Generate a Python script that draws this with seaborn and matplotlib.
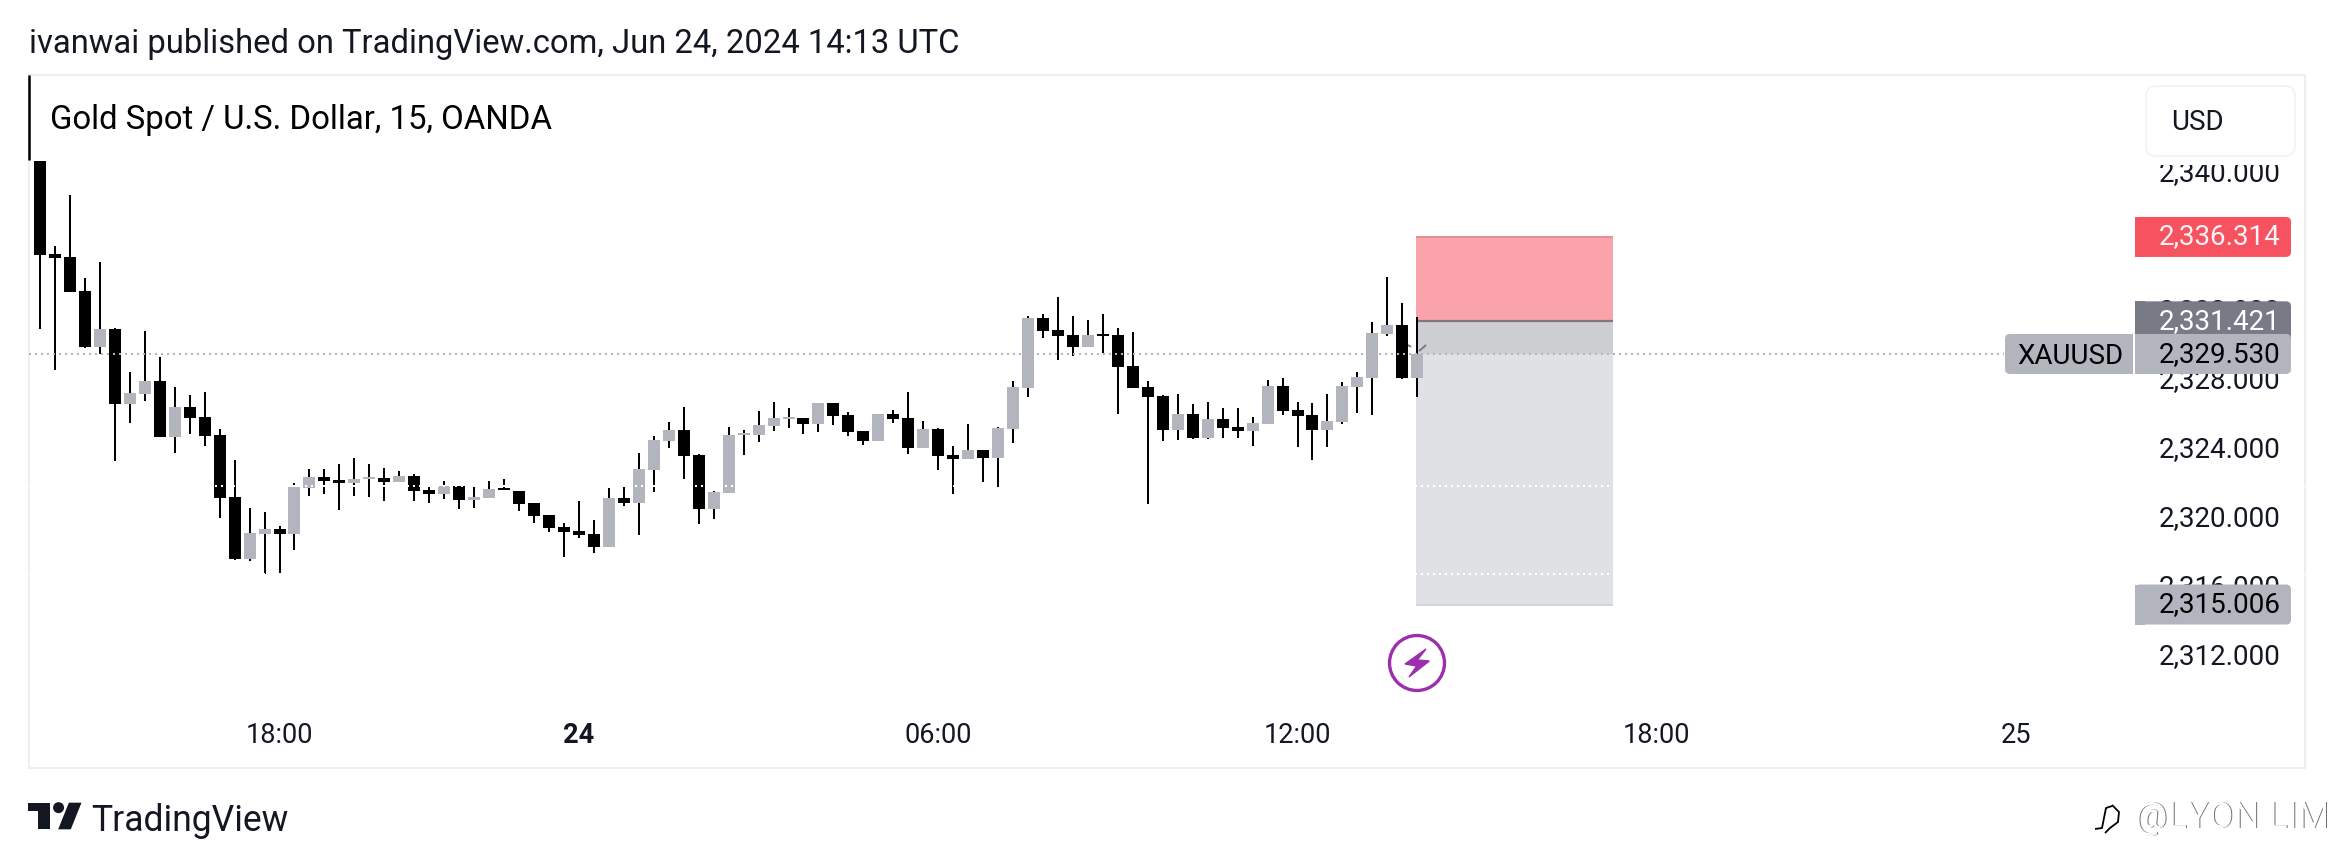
import numpy as np
import pandas as pd
import matplotlib
matplotlib.use('Agg')
import matplotlib.pyplot as plt
from matplotlib.patches import FancyBboxPatch, Rectangle, Circle, Polygon
import seaborn as sns

# XAUUSD 15 min candles
opens = [2340.72, 2335.33, 2335.15, 2333.18, 2329.94, 2330.98, 2326.63, 2327.21, 2327.96, 2324.72,
         2326.46, 2325.88, 2324.83, 2321.24, 2317.65, 2319.10, 2319.38, 2319.10, 2321.76, 2322.40,
         2322.23, 2322.05, 2322.28, 2322.34, 2322.11, 2322.46, 2321.65, 2321.41, 2321.88, 2321.07,
         2321.18, 2321.76, 2321.59, 2320.89, 2320.20, 2319.50, 2319.27, 2319.10, 2318.34, 2321.18,
         2320.89, 2322.81, 2324.49, 2325.12, 2323.67, 2320.54, 2321.47, 2324.83, 2324.83, 2325.36,
         2325.76, 2325.82, 2325.47, 2326.69, 2325.99, 2325.07, 2324.49, 2326.05, 2325.82, 2324.08,
         2325.18, 2323.67, 2323.44, 2323.96, 2323.50, 2325.18, 2327.56, 2331.62, 2330.92, 2330.63,
         2329.94, 2330.69, 2330.63, 2328.83, 2327.62, 2327.10, 2325.12, 2326.05, 2324.66, 2325.76,
         2325.30, 2325.07, 2325.47, 2327.67, 2326.28, 2325.99, 2325.12, 2325.59, 2327.62, 2328.14,
         2330.69, 2331.21, 2328.14]
highs = [2340.72, 2335.79, 2338.75, 2333.94, 2334.86, 2331.04, 2328.49, 2330.86, 2329.36, 2327.62,
         2327.15, 2327.33, 2325.18, 2323.38, 2320.60, 2320.37, 2319.56, 2322.05, 2322.86, 2322.86,
         2323.15, 2323.50, 2323.15, 2322.92, 2322.75, 2322.57, 2321.82, 2322.17, 2321.88, 2321.82,
         2322.17, 2322.28, 2321.59, 2320.89, 2320.20, 2319.73, 2321.01, 2319.91, 2321.76, 2321.82,
         2323.79, 2324.78, 2325.59, 2326.46, 2323.73, 2321.59, 2325.30, 2325.12, 2326.23, 2326.75,
         2326.40, 2325.82, 2326.69, 2326.69, 2326.17, 2325.07, 2326.05, 2326.28, 2327.33, 2325.65,
         2325.24, 2324.20, 2325.47, 2323.96, 2325.30, 2327.96, 2331.73, 2331.85, 2332.83, 2331.73,
         2331.50, 2331.85, 2331.04, 2330.81, 2327.96, 2327.15, 2327.21, 2326.63, 2326.75, 2326.40,
         2326.40, 2325.88, 2328.02, 2328.14, 2326.75, 2326.69, 2327.21, 2327.91, 2328.49, 2331.39,
         2333.99, 2332.49, 2331.67]
lows = [2330.98, 2328.60, 2333.12, 2329.88, 2329.53, 2323.33, 2325.53, 2326.81, 2324.72, 2323.79,
        2324.89, 2324.20, 2320.02, 2317.59, 2317.53, 2316.78, 2316.83, 2318.17, 2321.30, 2321.41,
        2320.49, 2321.30, 2321.24, 2321.01, 2322.11, 2321.01, 2320.89, 2321.12, 2320.54, 2320.60,
        2321.18, 2321.65, 2320.43, 2319.73, 2319.21, 2317.76, 2318.86, 2317.99, 2318.34, 2320.72,
        2319.04, 2321.53, 2324.08, 2322.28, 2319.67, 2319.96, 2321.47, 2323.67, 2324.43, 2325.07,
        2325.24, 2324.89, 2325.01, 2325.41, 2324.78, 2324.25, 2324.49, 2325.53, 2323.73, 2324.08,
        2322.81, 2321.41, 2323.44, 2322.11, 2321.82, 2324.37, 2327.04, 2330.46, 2329.18, 2329.41,
        2329.94, 2329.59, 2326.05, 2327.56, 2320.83, 2324.49, 2324.54, 2324.60, 2324.60, 2324.66,
        2324.66, 2324.20, 2325.47, 2325.99, 2324.14, 2323.38, 2324.14, 2325.47, 2326.11, 2325.99,
        2330.57, 2328.08, 2327.04]
closes = [2335.27, 2335.10, 2333.12, 2329.94, 2330.98, 2326.63, 2327.27, 2327.96, 2324.72, 2326.46,
          2325.82, 2324.78, 2321.18, 2317.65, 2319.15, 2319.38, 2319.10, 2321.82, 2322.40, 2322.17,
          2322.05, 2322.28, 2322.40, 2322.11, 2322.46, 2321.59, 2321.41, 2321.88, 2321.07, 2321.24,
          2321.70, 2321.65, 2320.83, 2320.14, 2319.44, 2319.21, 2319.04, 2318.34, 2321.18, 2320.89,
          2322.86, 2324.54, 2325.12, 2323.62, 2320.54, 2321.53, 2324.83, 2324.95, 2325.41, 2325.82,
          2325.88, 2325.47, 2326.69, 2325.94, 2325.01, 2324.49, 2326.05, 2325.76, 2324.08, 2325.18,
          2323.62, 2323.44, 2323.96, 2323.50, 2325.24, 2327.62, 2331.62, 2330.86, 2330.57, 2329.94,
          2330.63, 2330.57, 2328.78, 2327.56, 2327.04, 2325.12, 2326.05, 2324.66, 2325.76, 2325.24,
          2325.07, 2325.53, 2327.67, 2326.23, 2325.94, 2325.12, 2325.65, 2327.67, 2328.20, 2330.75,
          2331.21, 2328.14, 2329.53]

price_ticks = [2312, 2316, 2320, 2324, 2328, 2332, 2336, 2340]
time_ticks = [16, 36, 60, 84, 108, 132]
time_labels = ['18:00', '24', '06:00', '12:00', '18:00', '25']

last_price = 2329.530
stop_price = 2336.314
entry_price = 2331.421
target_price = 2315.006
box_bars = (91.9, 105.05)
grid_prices = [2321.88, 2316.78]

BLACK = '#000000'
GREY = '#b2b5be'
INK = '#131722'

sns.set_theme(style='white')
plt.rcParams['font.family'] = ['Roboto', 'DejaVu Sans']
plt.rcParams['lines.solid_capstyle'] = 'butt'

W, H = 2333, 865
L, R, T, B = 29, 2305, 75, 768

fig = plt.figure(figsize=(W / 100, H / 100), dpi=100, facecolor='white')
ax = fig.add_axes([L / W, 1 - B / H, (R - L) / W, (B - T) / H])
ax.set_xlim(-0.735, 151.3)
ax.set_ylim(2305.53, 2345.70)

bars = np.arange(len(opens))
direction = np.where(np.array(closes) >= np.array(opens), 'up', 'down')
wicks = pd.DataFrame({'bar': np.r_[bars, bars], 'price': highs + lows})
bodies = pd.DataFrame({'bar': np.r_[bars, bars], 'price': opens + closes,
                       'direction': np.r_[direction, direction]})

# position tool sits under the candles
ax.fill_between(box_bars, entry_price, stop_price, color='#fba3ab', lw=0, zorder=1)
ax.fill_between(box_bars, last_price, entry_price, color='#cdcfd3', lw=0, zorder=1)
ax.fill_between(box_bars, target_price, last_price, color='#e0e1e5', lw=0, zorder=1)
ax.plot(box_bars, [stop_price, stop_price], color='#e58e98', lw=1.4, zorder=1.2)
ax.plot(box_bars, [entry_price, entry_price], color='#83787f', lw=1.6, zorder=1.2)
ax.plot(box_bars, [target_price, target_price], color='#d1d4dc', lw=1.4, zorder=1.2)

# the two visible ends of the small drawing on the last candle
ax.plot([91.38, 91.58], [2330.05, 2329.94], color='#787b86', lw=1.4, zorder=1.5)
ax.plot([92.12, 92.59], [2329.70, 2330.05], color='#787b86', lw=1.4, zorder=1.5)

sns.lineplot(data=wicks, x='bar', y='price', units='bar', estimator=None, sort=False,
             color=BLACK, linewidth=1.44, legend=False, ax=ax, zorder=3)
sns.lineplot(data=bodies, x='bar', y='price', units='bar', estimator=None, sort=False,
             hue='direction', palette={'down': BLACK, 'up': GREY},
             linewidth=8.64, legend=False, ax=ax, zorder=3)

# dotted levels
ax.plot([-0.735, 131.2], [last_price, last_price], color=GREY, lw=1.44,
        dashes=(1, 2), zorder=4)
for p in grid_prices:
    ax.axhline(p, color='white', lw=1.44, dashes=(1, 2), zorder=4)
ax.axvline(-0.735, ymin=1 - 85 / (B - T), ymax=1, color=BLACK, lw=1.8, zorder=5, clip_on=False)

# axes
ax.set_xlabel('')
ax.set_ylabel('')
ax.yaxis.tick_right()
ax.set_yticks(price_ticks)
ax.set_yticklabels([f'{v:,.3f}' for v in price_ticks], va='center')
ax.set_xticks(time_ticks)
ax.set_xticklabels(time_labels)
ax.tick_params(axis='y', length=0, pad=-105, labelsize=20, labelcolor=INK)
ax.tick_params(axis='x', length=0, pad=-33, labelsize=19.5, labelcolor=INK)
ax.get_xticklabels()[1].set_fontweight('bold')
for s in ax.spines.values():
    s.set_color('#eeeeee')
    s.set_linewidth(1.5)

# overlay in pixel coordinates for the chrome around the chart
ov = fig.add_axes([0, 0, 1, 1])
ov.set_xlim(0, W)
ov.set_ylim(H, 0)
ov.axis('off')
ov.patch.set_alpha(0)


def price_y(p):
    return H - ax.transData.transform((0, p))[1]


def tag(x0, x1, p, color, text, text_color, text_x=2159, square=None, lift=3):
    yc = price_y(p)
    r = 5
    ov.add_patch(FancyBboxPatch((x0 + r, yc - 20 + r), x1 - x0 - 2 * r, 40 - 2 * r,
                                boxstyle=f'round,pad={r},rounding_size={r}', fc=color, lw=0))
    if square == 'left':
        ov.add_patch(Rectangle((x0, yc - 20), 2 * r, 40, fc=color, lw=0))
    if square == 'right':
        ov.add_patch(Rectangle((x1 - 2 * r, yc - 20), 2 * r, 40, fc=color, lw=0))
    ov.text(text_x, yc - lift, text, color=text_color, fontsize=20, va='center_baseline', ha='left')


tag(2135, 2291, stop_price, '#f7525f', f'{stop_price:,.3f}', '#fdf3f4', square='left')
tag(2135, 2291, entry_price, '#787b86', f'{entry_price:,.3f}', 'white', square='left')
tag(2135, 2291, last_price, GREY, f'{last_price:,.3f}', BLACK, square='left', lift=2)
tag(2135, 2291, target_price, GREY, f'{target_price:,.3f}', BLACK, square='left')
tag(2005, 2133, last_price, GREY, 'XAUUSD', BLACK, text_x=2017, square='right', lift=0)

# currency button
ov.add_patch(Rectangle((2146, 77), 149, 88, fc='white', lw=0))
ov.add_patch(FancyBboxPatch((2156, 96), 129, 50, boxstyle='round,pad=10,rounding_size=10',
                            fc='white', ec='#f0f3fa', lw=1.2))
ov.text(2171, 120, 'USD', color=INK, fontsize=20, va='center_baseline', ha='left')

# headers
ov.text(29, 41, 'ivanwai published on TradingView.com, Jun 24, 2024 14:13 UTC',
        color=INK, fontsize=23.55, va='center_baseline', ha='left')
ov.text(50, 116, 'Gold Spot / U.S. Dollar, 15, OANDA', color=BLACK, fontsize=23.65,
        va='center_baseline', ha='left')

# TradingView logo
lx = lambda z: z / 2.613
ly = lambda z: 760 + z / 3
ov.add_patch(Polygon([(lx(73), ly(128)), (lx(130), ly(128)), (lx(130), ly(208)), (lx(100), ly(208)),
                      (lx(100), ly(152)), (lx(73), ly(152))], fc=INK, lw=0))
ov.add_patch(Circle((lx(153), ly(143)), 5.5, fc=INK, lw=0))
ov.add_patch(Polygon([(lx(180), ly(128)), (lx(213), ly(128)), (lx(185), ly(208)), (lx(152), ly(208))],
                     fc=INK, lw=0))
ov.text(91, 831, 'TradingView', color=INK, fontsize=25.6, va='baseline', ha='left')

# news marker under the last candle
ov.add_patch(Circle((1417, 663), 27.5, fc='white', ec='#9c2fae', lw=2.4))
bolt = [(258, 207), (232, 240), (268, 243), (207, 291), (230, 258), (195, 252)]
ov.add_patch(Polygon([(1340 + a / 3, 580 + b / 3) for a, b in bolt], fc='#9c2fae',
                     ec='#9c2fae', lw=1.0))

# embossed watermark
ov.plot([2112, 2119, 2118, 2110, 2105], [805, 812, 822, 828, 833], color=BLACK, lw=1.3)
ov.plot([2112, 2106, 2104, 2102, 2095], [806, 808, 818, 828, 829], color=BLACK, lw=1.3)
ov.text(2135.8, 828, '@LYON LIM', color='#707070', fontsize=26, va='baseline', ha='left')
ov.text(2135, 828, '@LYON LIM', color='white', fontsize=26, va='baseline', ha='left')

fig.savefig('out.png', dpi=100)
